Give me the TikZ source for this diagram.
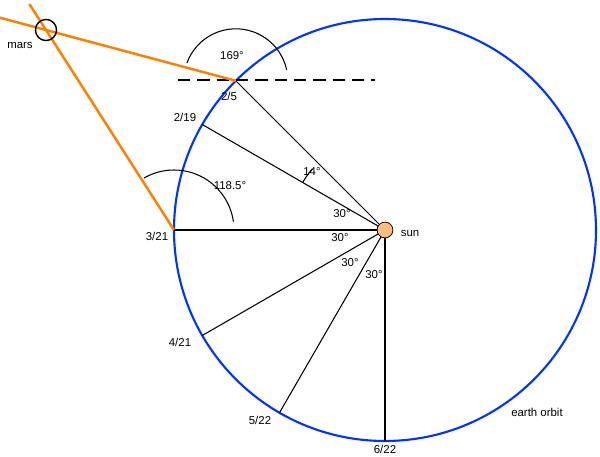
\documentclass[tikz,border=0pt]{standalone}
\usepackage{fontspec}
\setmainfont{Liberation Sans}
\usetikzlibrary{calc}

\begin{document}
\begin{tikzpicture}[
        x=0.02cm, y=0.02cm,
        font=\fontsize{6.5}{7}\selectfont,
        orbit/.style = {draw=blue!80!cyan, line width=1.2pt},
        sight/.style = {draw=orange, line width=1.4pt},
        spoke/.style = {draw, line width=0.6pt},
        angarc/.style = {draw, line width=0.6pt}
    ]
        \useasboundingbox (0,0) rectangle (600,-457);
        % Sun and orbit
        \coordinate (sunc) at (385,-230);
        \draw [orbit] (sunc) circle (211);
        % Positions on the orbit
        \coordinate (feb5) at ($(sunc)+(135:211)$);
        \coordinate (feb19) at ($(sunc)+(150:211)$);
        \coordinate (mar21) at ($(sunc)+(180:211)$);
        \coordinate (apr21) at ($(sunc)+(210:211)$);
        \coordinate (may22) at ($(sunc)+(240:211)$);
        \coordinate (jun22) at ($(sunc)+(270:211)$);
        \coordinate (mars) at (46,-30);

        % Spokes
        \foreach \p in {feb5, feb19, mar21, apr21, may22, jun22}
            \draw [spoke] (sunc) -- (\p);

        % Dashed level line
        \coordinate (dashl) at (178,-80);
        \coordinate (dashr) at (375,-80);
        \draw [dashed, line width=0.9pt, dash pattern=on 7pt off 4pt] (dashl) -- (dashr);

        % Lines of sight
        \draw [sight] (feb5) -- ($(feb5)!1.25!(mars)$);
        \draw [sight] (mar21) -- ($(mar21)!1.13!(mars)$);
        \node [draw, circle, line width=0.8pt, minimum size=12pt, inner sep=0pt] (marsdot) at (mars) {};
        \node [draw, circle, fill=orange!50, minimum size=9pt, inner sep=0pt] (sun) at (sunc) {};

        % Angle arcs
        \draw [angarc] ($(feb5)+(160:52)$) arc (160:12:52);
        \draw [angarc] ($(mar21)+(120:60)$) arc (120:8:60);
        \draw [angarc] ($(sunc)+(150:95)$) arc (150:140:95);

        % Labels
        \node at (232,-56) {169°};
        \node at (230,-186) {118.5°};
        \node at (312,-172) {14°};
        \node at (342,-214) {30°};
        \node at (340,-238) {30°};
        \node at (350,-263) {30°};
        \node at (374,-275) {30°};
        \node at (20,-45) {mars};
        \node at (229,-96) {2/5};
        \node at (185,-117) {2/19};
        \node at (157,-236) {3/21};
        \node at (180,-342) {4/21};
        \node at (260,-420) {5/22};
        \node at (385,-449) {6/22};
        \node at (410,-233) {sun};
        \node at (537,-412) {earth orbit};
    \end{tikzpicture}
\end{document}
